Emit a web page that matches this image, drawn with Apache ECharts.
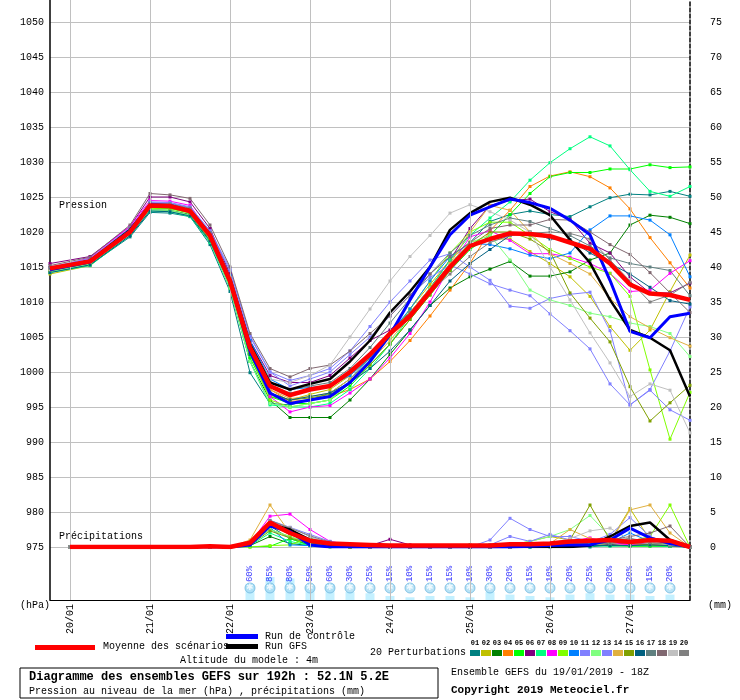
<!DOCTYPE html>
<html><head><meta charset="utf-8">
<script src="https://cdn.jsdelivr.net/npm/echarts@6/dist/echarts.min.js"></script>
<style>html,body{margin:0;padding:0;background:#fff}#c{width:740px;height:700px}</style>
</head><body><div id="c"></div>
<script>
var pressureHours = [0,12,24,30,36,42,48,54,60,66,72,78,84,90,96,102,108,114,120,126,132,138,144,150,156,162,168,174,180,186,192];
var precipHours = [6,12,18,24,30,36,42,48,54,60,66,72,78,84,90,96,102,108,114,120,126,132,138,144,150,156,162,168,174,180,186,192];
var dayHours = [6,30,54,78,102,126,150,174];
var dayLabels = ['20/01','21/01','22/01','23/01','24/01','25/01','26/01','27/01'];
var snowHours = [60,66,72,78,84,90,96,102,108,114,120,126,132,138,144,150,156,162,168,174,180,186];
var snowPct = [60,85,80,50,60,30,25,15,10,15,15,10,30,20,15,10,20,25,20,20,15,20];

var meanP = [1014.8,1015.8,1020,1023.8,1023.7,1023,1019.5,1013,1003.5,998,996.7,997.5,998,1000,1002.5,1005.5,1008,1011.5,1015,1018,1019,1019.8,1019.7,1019.4,1018.5,1017.6,1015.5,1012.5,1011.2,1011,1010.3];
var controlP = [1014.6,1015.7,1020.2,1023.9,1023.8,1023,1019.6,1013,1003,997,995.5,996,996.5,998.5,1001.5,1005.3,1010.3,1015,1019.6,1022.4,1023.6,1024.7,1024.2,1023.4,1021.7,1019.6,1013.1,1005.8,1004.9,1007.9,1008.4];
var gfsP = [1014.7,1015.9,1020.3,1023.8,1023.7,1023.1,1019.6,1013.2,1004,998.5,997.5,998.3,999,1001.5,1004.5,1008.5,1011.5,1015,1020.3,1022.7,1024.3,1024.9,1023.9,1022.4,1018.9,1015.6,1010.3,1006,1004.9,1003.1,996.5];

var pertP = [
 [1014.3,1015.3,1019.3,1022.8,1022.7,1022.2,1018.2,1011.5,999.9,995.5,995.3,996,997,999,1002,1005.5,1008.5,1011.5,1014.5,1018.5,1021.5,1022.5,1023,1022.5,1022.2,1023.6,1024.9,1025.4,1025.3,1025.8,1025.1],
 [1014.0,1015.2,1019.8,1023.5,1023.4,1022.8,1019.2,1012.8,1002.5,996.5,996,996.8,997.5,999.5,1002,1005,1009,1012.5,1016,1018.6,1019,1019,1017.2,1015.5,1013.6,1010.8,1006.5,1003.1,1006,1011.5,1016.7],
 [1014.5,1015.5,1019.8,1023.2,1023.1,1022.5,1018.8,1012,1001.5,996,993.5,993.5,993.5,996,999,1002.5,1006,1009.5,1012,1013.6,1014.7,1015.8,1013.7,1013.7,1014.3,1016,1017,1021,1022.4,1022.1,1021.2],
 [1014.5,1015.6,1020,1023.6,1023.5,1022.8,1019.4,1013,1003.3,997.5,995.8,996,996.5,997.5,999,1001.5,1004.5,1008,1011.7,1015.5,1020.2,1023.1,1026.5,1028,1028.6,1027.9,1026.3,1023.3,1019.2,1015.6,1012],
 [1014.6,1015.7,1020.2,1023.5,1023.4,1022.9,1019.4,1012.8,1002,996.5,995.5,995.5,996,998,1001,1004,1007.5,1011,1014.5,1017.5,1019.5,1022.5,1025.5,1027.9,1028.5,1028.5,1029,1029,1029.6,1029.2,1029.3],
 [1015.5,1016.5,1020.8,1025,1025,1024.3,1020.5,1014,1004.5,999.5,998.5,998.5,999.5,1002,1004.5,1006,1008.5,1012,1016,1020.5,1023.8,1024.5,1024.7,1022.9,1021.8,1018.4,1017,1013.6,1011.3,1011.3,1012.7],
 [1014.2,1015.2,1019.5,1023,1022.9,1022.2,1018.5,1012,1001.5,995.3,995,995,995.5,997.5,1000.5,1004,1008,1012,1016,1019.5,1022,1024.3,1027.4,1029.9,1031.9,1033.6,1032.3,1028.9,1025.8,1025.1,1026.5],
 [1014.8,1016.3,1020.8,1024.5,1024.4,1023.8,1019.8,1013.5,1003,996.5,994.3,995,995.2,997,999,1002,1005.5,1010,1015,1019.3,1020.2,1018.8,1016.9,1016.9,1016.4,1015.5,1014.1,1011.5,1011.7,1014.1,1015.9],
 [1014.4,1015.5,1020,1023.4,1023.3,1022.7,1019,1012.5,1002.5,996,995,995.5,996,998.5,1001.5,1005,1009,1013,1017,1020,1021.4,1021.4,1019.5,1017.5,1016.2,1015,1014.1,1010.8,1000.3,990.4,997.1],
 [1014.9,1016,1020.3,1024,1023.9,1023.2,1019.8,1013.8,1004.5,999,997.5,997.8,998,999.5,1002,1005.5,1009,1013,1016.5,1018.4,1018.2,1017.6,1016.7,1016.2,1017,1020.3,1022.3,1022.3,1021.7,1019.6,1013.6],
 [1015,1016.2,1020.6,1024.2,1024.1,1023.5,1020,1014.5,1005.2,1000,998.8,999.5,1000.5,1003,1006.5,1010,1013,1016,1016.9,1015,1013.1,1009.4,1009.1,1010.5,1011.1,1011.4,1005.9,995.3,997.5,1003,1009.3],
 [1014.3,1015.4,1019.7,1023.2,1023.1,1022.4,1018.7,1012,1001.5,995.5,995,995.5,996,998.5,1001.5,1005,1008.5,1012,1015.5,1018.5,1019.5,1016,1011.7,1010.3,1009.5,1008.4,1007.9,1007,1006.5,1005.5,1002.2],
 [1014.9,1016.1,1020.5,1024.3,1024.2,1023.6,1020.2,1014.8,1005,1000,998,999,1000,1002.5,1005,1008,1011,1013.5,1015.3,1014,1012.6,1011.7,1010.9,1008.3,1005.9,1003.3,998.3,995.3,997.4,994.6,993.1],
 [1014.7,1015.8,1020.2,1023.9,1023.8,1023.1,1019.5,1013.2,1003.2,997.5,996.2,996.5,997,999,1001.5,1004.5,1008,1011.5,1015.5,1020,1023.8,1023.1,1020,1016.9,1015.5,1014,1010.5,1007.9,1006.3,1004.9,1003.7],
 [1014.5,1015.6,1020,1023.5,1023.4,1022.8,1019.2,1012.8,1002.8,997,996,996.3,996.8,998.5,1001,1004,1007.5,1011,1014.5,1018,1020,1020,1019,1017.2,1011.3,1007.7,1004.3,997.9,993,995.6,998.1],
 [1014.2,1015.3,1019.5,1023,1022.9,1022.3,1018.7,1012.5,1002.5,997,996,996.5,997,998.5,1000.5,1003,1006,1009.5,1013,1015.5,1017.5,1019.5,1020,1019,1018.9,1017,1015.5,1014,1012.1,1010.2,1009.7],
 [1014.9,1016,1020.5,1024.1,1024,1023.4,1019.9,1013.6,1003.8,998.5,997.5,998,998.5,1000.5,1003.5,1007,1010.5,1014,1017,1019.5,1021,1022,1021.5,1020.5,1019.5,1018,1016.3,1015.5,1015,1014.5,1010.9],
 [1015.2,1016.4,1021,1025.5,1025.3,1024.8,1021,1015,1005.5,1000.5,999.3,1000.5,1001,1003,1005.5,1008,1011,1014,1016.5,1018.5,1020.5,1021,1021,1021.8,1021.7,1020,1018.2,1016.8,1014.2,1011.3,1008.5],
 [1014.6,1015.7,1020.3,1023.8,1023.7,1023,1019.4,1013.5,1004,999,998.5,999.5,1001,1005,1009,1013,1016.5,1019.5,1022.7,1023.9,1022.9,1021.7,1020,1015,1010.3,1005.6,1001.3,996.5,998.3,997.4,991.3],
 [1014.8,1015.9,1020.4,1024,1023.9,1023.3,1019.7,1013.4,1003.5,998,997,997.5,998,1000,1002.5,1005.5,1008.5,1011.5,1014,1016.5,1018.5,1019.5,1019.8,1020,1019.8,1019,1016,1013,1010,1011,1012.8]
];

var meanR = [0,0,0,0,0,0,0,0.1,0,0.6,3.5,2.0,0.9,0.5,0.4,0.3,0.2,0.2,0.2,0.2,0.2,0.2,0.4,0.4,0.5,0.8,0.9,1.0,0.7,1.0,0.9,0];
var controlR = [0,0,0,0,0,0,0,0,0,0.3,3.0,2.2,0.3,0,0,0,0,0,0,0,0,0,0,0.1,0.2,0.3,0.3,1.0,2.7,1.3,0.5,0];
var gfsR = [0,0,0,0,0,0,0,0,0,0.5,3.3,2.5,1.0,0.3,0,0,0,0,0,0,0,0,0,0,0,0,0.2,1.5,3.0,3.5,1.0,0];
var pertR = [
 [0,0,0,0,0,0,0,0,0,0.3,3.0,1.2,0.3,0.7,0.2,0,0,0,0,0,0,0,0,0,0,0.2,0,0.3,0.2,0.3,0.2,0],
 [0,0,0,0,0,0,0,0,0,0.6,2.5,1.5,0.5,0.3,0,0,0,0,0,0,0,0,0.3,0.8,1.5,1.0,0.5,0.8,5.5,1.0,0.5,0],
 [0,0,0,0,0,0,0,0,0,0.2,1.5,0.5,0.2,0.2,0,0,0,0,0,0,0.3,0.3,0.2,0.2,0.2,0.2,0.2,0.3,0.2,0.2,0.1,0],
 [0,0,0,0,0,0,0,0,0,0.4,3.0,1.8,0.6,0.3,0.1,0,0,0,0,0,0,0,0.2,0.3,0.5,0.4,0.5,0.6,0.3,0.5,0.3,0],
 [0,0,0,0,0,0,0,0,0,0,0.1,1.2,0.2,0,0,0,0,0,0,0,0,0,0,0,0.2,0.3,0.2,0.2,0.1,0.1,0.1,0],
 [0,0,0,0,0,0,0,0,0,0.3,3.2,2.2,0.8,0.3,0.2,0.2,1.1,0.3,0,0,0,0,0,0.3,0.3,0.5,0.5,0.4,0.6,0.5,0.4,0],
 [0,0,0,0,0,0,0,0,0,0.2,2.0,0.8,0.2,0.1,0,0,0,0,0,0,0,0,0,0.1,0.1,0.3,0.2,0.1,0.2,0.2,0.1,0],
 [0,0,0,0,0,0,0,0,0,0.5,4.4,4.7,2.5,0.8,0.3,0,0,0,0,0,0,0,0,0.3,0.3,0.8,1.3,0.6,0.3,0.5,0.2,0],
 [0,0,0,0,0,0,0,0,0,0,0.2,0.3,1.3,0.3,0,0,0,0,0,0,0,0,0,0.1,0.2,0.3,0.4,0.5,0.8,1.5,6.0,0],
 [0,0,0,0,0,0,0,0,0,0.3,2.8,0.3,0.2,0.2,0,0,0,0,0,0,0,0,0,0,0.2,0.5,0.8,0.6,2.0,0.8,0.4,0],
 [0,0,0,0,0,0,0,0,0,0.5,3.8,2.8,1.5,0.5,0.2,0,0,0,0,0,0,1.0,4.1,2.5,1.5,1.5,0.8,0.5,1.0,0.8,0.5,0],
 [0,0,0,0,0,0,0,0,0,0.4,2.5,1.5,0.4,0.2,0,0,0,0,0,0,0,0,0.3,0.8,1.5,2.5,4.5,1.5,0.8,0.5,0.3,0],
 [0,0,0,0,0,0,0,0,0,0.5,3.6,2.8,1.8,0.8,0.3,0,0,0,0,0,0,0.3,1.5,0.8,1.8,1.0,0.7,1.8,4.2,1.5,0.5,0],
 [0,0,0,0,0,0,0,0,0,1.0,6.0,2.0,0.7,0.3,0,0,0,0,0,0,0,0,0,0.2,0.5,2.5,1.2,0.6,5.3,6.0,2.0,0],
 [0,0,0,0,0,0,0,0,0,0.3,2.3,1.3,0.5,0.2,0,0,0,0,0,0,0,0,0,0.2,0.5,1.0,6.0,1.0,0.5,0.3,0.2,0],
 [0,0,0,0,0,0,0,0,0,0.3,3.3,2.0,0.6,0.3,0.2,0,0,0,0,0,0,0,0,0.1,0.2,0.3,0.2,0.2,0.2,0.3,0.2,0],
 [0,0,0,0,0,0,0,0,0,0.4,3.5,2.4,1.0,0.5,0.2,0,0,0,0,0,0,0,0,0.2,0.3,0.4,0.6,0.5,1.2,0.8,0.5,0],
 [0,0,0,0,0,0,0,0,0,0.4,3.3,2.5,1.2,0.6,0.2,0,0,0,0,0,0,0,0,0.2,0.4,0.5,0.8,1.0,1.5,2.0,3.0,0],
 [0,0,0,0,0,0,0,0,0,0.6,3.5,2.8,1.5,0.5,0.2,0,0,0,0,0,0,0,0,0.2,0.5,1.2,2.3,2.7,1.0,0.8,0.3,0],
 [0,0,0,0,0,0,0,0,0,0.5,3.8,2.7,1.6,0.7,0.3,0,0,0,0,0,0,0,0,0.2,0.4,0.6,0.8,1.0,1.2,0.6,0.4,0]
];
var pertColors = ['#008080','#c0c000','#008000','#ff8000','#00ff00','#800080','#00ff80','#ff00ff','#80ff00','#0080ff','#8080ff','#80ff80','#8080ff','#e0b040','#80a000','#006080','#608080','#806870','#c0c0c0','#808080'];

function zip(hs, vs, off){ return hs.map(function(h,i){ return [h, vs[i] + (off||0)]; }); }

var series = [];
pertP.forEach(function(p,k){
  series.push({type:'line', xAxisIndex:0, yAxisIndex:0, data:zip(pressureHours,p), symbol:'rect', symbolSize:3, showSymbol:true, lineStyle:{width:1,color:pertColors[k]}, itemStyle:{color:pertColors[k]}, silent:true, animation:false, z:2});
  series.push({type:'line', xAxisIndex:0, yAxisIndex:0, data:zip(precipHours,pertR[k],975), symbol:'rect', symbolSize:3, lineStyle:{width:1,color:pertColors[k]}, itemStyle:{color:pertColors[k]}, silent:true, animation:false, z:2});
});
[[gfsP,gfsR,'#000000',2.5],[controlP,controlR,'#0000ff',3],[meanP,meanR,'#ff0000',4.5]].forEach(function(s,i){
  series.push({type:'line', xAxisIndex:0, yAxisIndex:0, data:zip(pressureHours,s[0]), symbol:'none', lineStyle:{width:s[3],color:s[2]}, silent:true, animation:false, z:3+i});
  series.push({type:'line', xAxisIndex:0, yAxisIndex:0, data:zip(precipHours,s[1],975), symbol:'none', lineStyle:{width:s[3],color:s[2]}, silent:true, animation:false, z:3+i});
});
series.push({type:'line', xAxisIndex:1, yAxisIndex:2, data:[], silent:true, animation:false,
  markLine:{silent:true, symbol:'none', label:{show:false}, lineStyle:{color:'#c0c0c0', type:'solid', width:1},
    data: dayHours.map(function(h){return {xAxis:h};})}, z:0});
series.push({type:'bar', xAxisIndex:1, yAxisIndex:2, stack:'s', data:snowHours.map(function(h){return [h,17];}), barWidth:9, itemStyle:{color:'rgba(0,0,0,0)'}, silent:true, animation:false, z:1});
series.push({type:'bar', xAxisIndex:1, yAxisIndex:2, stack:'s', data:snowHours.map(function(h,i){return [h,snowPct[i]*0.27];}), barWidth:9, itemStyle:{color:'#c4f0ff'}, silent:true, animation:false, z:1});
series.push({type:'scatter', xAxisIndex:1, yAxisIndex:2, data:snowHours.map(function(h){return [h,12];}), symbol:'circle', symbolSize:10, itemStyle:{color:'#a8dcf4', borderColor:'#70b8e0', borderWidth:1}, label:{show:true, formatter:'✱', color:'#ffffff', fontSize:9, position:'inside'}, silent:true, animation:false, z:2});
series.push({type:'scatter', xAxisIndex:1, yAxisIndex:2, data:snowHours.map(function(h,i){return [h,26];}), symbolSize:1, itemStyle:{color:'rgba(0,0,0,0)'},
  label:{show:true, position:'inside', rotate:90, fontFamily:'Liberation Mono', fontSize:9, color:'#0000ff', formatter:function(p){return snowPct[p.dataIndex]+'%';}}, silent:true, animation:false, z:3});

var mono = 'Liberation Mono';
var option = {
  backgroundColor:'#ffffff',
  animation:false,
  grid:[{left:50,right:50,top:22,bottom:153},{left:50,right:50,top:0,bottom:100}],
  xAxis:[
    {gridIndex:0, type:'value', min:0, max:192, show:false},
    {gridIndex:1, type:'value', min:0, max:192, axisLine:{show:true, lineStyle:{color:'#000'}}, axisTick:{show:false}, splitLine:{show:false},
      axisLabel:{customValues:dayHours, rotate:90, margin:4, fontFamily:mono, fontSize:10, color:'#000', formatter:function(v){return dayLabels[dayHours.indexOf(v)]||'';}}}
  ],
  yAxis:[
    {gridIndex:0, type:'value', min:975, max:1050, interval:5, position:'left', axisLine:{show:false}, axisTick:{show:false},
      splitLine:{show:true, lineStyle:{color:'#c0c0c0', width:1}}, axisLabel:{fontFamily:mono, fontSize:10, color:'#000', margin:6, formatter:function(v){return String(v);}}},
    {gridIndex:0, type:'value', min:0, max:75, interval:5, position:'right', axisLine:{show:false}, axisTick:{show:false}, splitLine:{show:false},
      axisLabel:{fontFamily:mono, fontSize:10, color:'#000', margin:20, formatter:function(v){return String(v);}}},
    {gridIndex:1, type:'value', min:0, max:600, position:'left', axisLine:{show:true, lineStyle:{color:'#000', width:1.5}}, axisTick:{show:false}, axisLabel:{show:false}, splitLine:{show:false}},
    {gridIndex:1, type:'value', min:0, max:600, position:'right', axisLine:{show:true, lineStyle:{color:'#000', width:1.5, type:[4,2]}}, axisTick:{show:false}, axisLabel:{show:false}, splitLine:{show:false}}
  ],
  graphic:[
    {type:'text', left:59, top:200, style:{text:'Pression', font:'10px '+mono, fill:'#000'}},
    {type:'text', left:59, top:531, style:{text:'Précipitations', font:'10px '+mono, fill:'#000'}},
    {type:'text', left:20, top:600, style:{text:'(hPa)', font:'10px '+mono, fill:'#000'}},
    {type:'text', left:708, top:600, style:{text:'(mm)', font:'10px '+mono, fill:'#000'}},
    {type:'rect', shape:{x:35,y:645,width:60,height:5}, style:{fill:'#ff0000'}},
    {type:'text', left:103, top:641, style:{text:'Moyenne des scénarios', font:'10px '+mono, fill:'#000'}},
    {type:'rect', shape:{x:226,y:634,width:32,height:5}, style:{fill:'#0000ff'}},
    {type:'text', left:265, top:631, style:{text:'Run de contrôle', font:'10px '+mono, fill:'#000'}},
    {type:'rect', shape:{x:226,y:644,width:32,height:5}, style:{fill:'#000000'}},
    {type:'text', left:265, top:641, style:{text:'Run GFS', font:'10px '+mono, fill:'#000'}},
    {type:'text', left:180, top:655, style:{text:'Altitude du modele : 4m', font:'10px '+mono, fill:'#000'}},
    {type:'text', left:370, top:647, style:{text:'20 Perturbations', font:'10px '+mono, fill:'#000'}},
    {type:'rect', shape:{x:20,y:668,width:418,height:30}, style:{fill:'none', stroke:'#000', lineWidth:1}},
    {type:'text', left:29, top:671, style:{text:'Diagramme des ensembles GEFS sur 192h : 52.1N 5.2E', font:'bold 12px '+mono, fill:'#000'}},
    {type:'text', left:29, top:686, style:{text:'Pression au niveau de la mer (hPa) , précipitations (mm)', font:'10px '+mono, fill:'#000'}},
    {type:'text', left:451, top:667, style:{text:'Ensemble GEFS du 19/01/2019 - 18Z', font:'10px '+mono, fill:'#000'}},
    {type:'text', left:451, top:685, style:{text:'Copyright 2019 Meteociel.fr', font:'bold 11px '+mono, fill:'#000'}}
  ].concat(pertColors.map(function(c,i){
    return {type:'rect', shape:{x:470+i*11,y:650,width:10,height:6}, style:{fill:c}};
  })).concat(pertColors.map(function(c,i){
    return {type:'text', x:475+i*11, y:640, style:{text:(i<9?'0':'')+(i+1), font:'bold 7px '+mono, fill:'#000', textAlign:'center'}};
  })),
  series:series
};
echarts.init(document.getElementById('c')).setOption(option);
</script></body></html>
